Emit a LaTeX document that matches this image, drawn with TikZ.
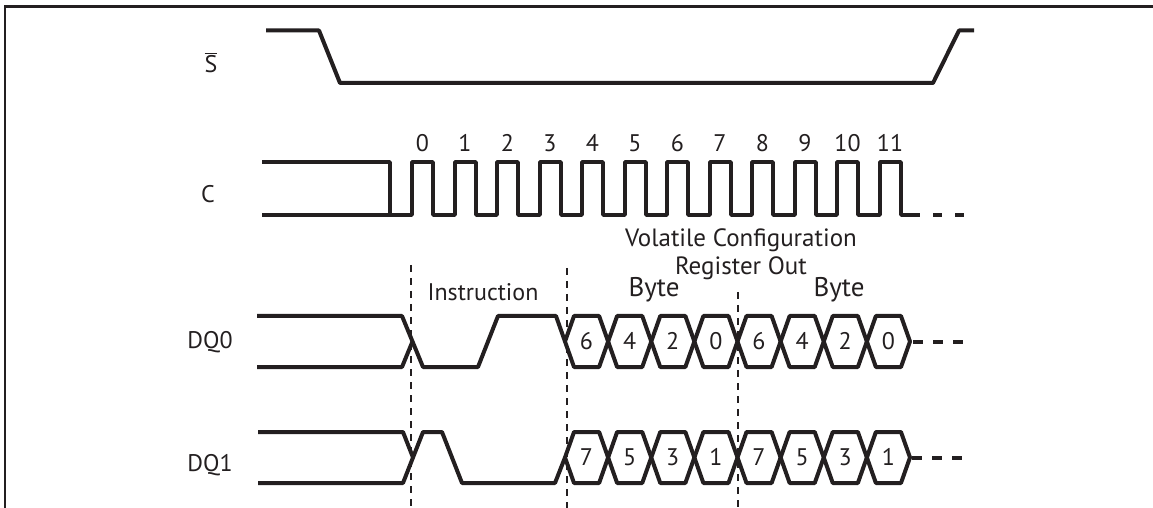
\documentclass[tikz,border=0pt]{standalone}
\usepackage{fontspec}
\setmainfont{PT Sans}
\usepackage{xcolor}
\definecolor{ink}{HTML}{231F20}

\begin{document}
\begin{tikzpicture}[x=0.5pt, y=-0.5pt, font=\fontsize{12}{14}\selectfont, color=ink,
  sig/.style={line width=2pt, line join=bevel},
  guide/.style={line width=1pt, dash pattern=on 3.5pt off 3pt},
  tail/.style={line width=2pt, dash pattern=on 5pt off 5pt},
  lbl/.style={inner sep=0pt, anchor=base},
  big/.style={lbl, font=\fontsize{12.5}{14}\selectfont}]
  \useasboundingbox (0,0) rectangle (1153,508);
  \draw[line width=1.2pt] (5,508) -- (5,6.5) -- (1153,6.5);
  % signal names
  \node[lbl] (ns) at (211,73) {$\overline{\mbox{S}}$};
  \node[lbl] (nc) at (208,203) {C};
  \node[lbl] (nd0) at (210,349) {DQ0};
  \node[lbl] (nd1) at (210,471) {DQ1};
  % chip select
  \draw[sig] (266,30.5) -- (319,30.5) -- (340,83) -- (933,83) -- (959,30.5) -- (974,30.5);
  % clock
  \draw[sig] (262,162) -- (390,162) -- (390,215);
  \draw[sig] (262,215) \foreach \i in {0,...,11} { -- ({412+42.5*\i},215) -- ++(0,-53) -- ++(21,0) -- ++(0,53) } -- (920,215);
  \draw[tail, dash pattern=on 4.5pt off 6.5pt] (933,215) -- (964,215);
  \foreach \i in {0,...,11}
    \node[lbl] (clk\i) at ({422.5+42.5*\i},152) {\i};
  % phase markers
  \draw[guide] (411,265) -- (411,508);
  \draw[guide] (567,268) -- (567,508);
  \draw[guide] (738,292) -- (738,508);
  \node[lbl] (ins) at (483,300) {Instruction};
  \node[big] (vcr1) at (741,247) {Volatile Configuration};
  \node[big] (vcr2) at (741,275) {Register Out};
  \node[big, font=\fontsize{13.5}{15}\selectfont] (by1) at (654,297) {Byte};
  \node[big, font=\fontsize{13.5}{15}\selectfont] (by2) at (839,297) {Byte};
  % DQ0
  \draw[sig] (257,316) -- (402,316) -- (423,367) -- (478,367) -- (498,316) -- (556,316) -- (565,341.5);
  \draw[sig] (257,367) -- (402,367) -- (412.5,341.5);
  \foreach \v [count=\k from 0] in {6,4,2,0,6,4,2,0} {
    \draw[sig] ({565+43.125*\k},341.5) -- ++(9,-25.5) -- ++(25.125,0) -- ++(9,25.5) -- ++(-9,25.5) -- ++(-25.125,0) -- cycle;
    \node[lbl] (a\k) at ({586.5+43.125*\k},350) {\v};
  }
  \draw[tail] (913,341.5) -- (963,341.5);
  % DQ1
  \draw[sig] (258,432) -- (403,432) -- (413,457.5);
  \draw[sig] (258,483) -- (403,483) -- (423,432) -- (442,432) -- (462,483) -- (555,483) -- (565,457.5);
  \foreach \v [count=\k from 0] in {7,5,3,1,7,5,3,1} {
    \draw[sig] ({565+43.125*\k},457.5) -- ++(9,-25.5) -- ++(25.125,0) -- ++(9,25.5) -- ++(-9,25.5) -- ++(-25.125,0) -- cycle;
    \node[lbl] (b\k) at ({586.5+43.125*\k},466) {\v};
  }
  \draw[tail] (912,457.5) -- (962,457.5);
\end{tikzpicture}
\end{document}
